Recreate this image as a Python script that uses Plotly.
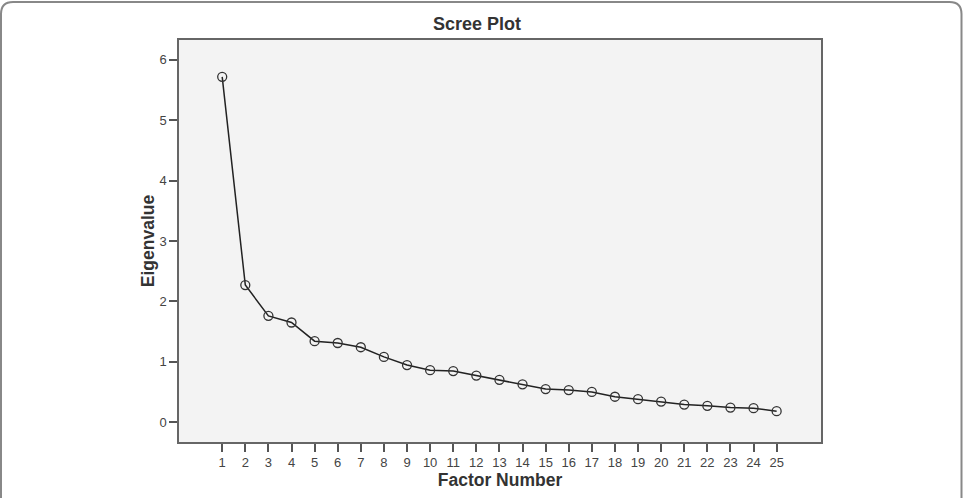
import plotly.graph_objects as go

factors = list(range(1, 26))
eigenvalues = [5.72, 2.27, 1.76, 1.65, 1.34, 1.31, 1.24, 1.08, 0.945, 0.86,
               0.845, 0.77, 0.70, 0.625, 0.547, 0.53, 0.50, 0.42, 0.38, 0.34,
               0.29, 0.27, 0.24, 0.23, 0.18]
x_ticks = list(range(1, 26))
y_ticks = [0, 1, 2, 3, 4, 5, 6]

W, H = 963, 498
L, R, T, B = 179, 142, 40, 56
pw, ph = W - L - R, H - T - B

fig = go.Figure()
fig.add_trace(go.Scatter(
    x=factors, y=eigenvalues, mode="lines+markers",
    line=dict(color="#222222", width=1.5),
    marker=dict(symbol="circle-open", size=9, color="#333333", line=dict(width=1.3)),
    hoverinfo="x+y", showlegend=False,
))

font_family = "Liberation Sans, Arial, Helvetica, sans-serif"

fig.update_layout(
    width=W, height=H,
    margin=dict(l=L, r=R, t=T, b=B, autoexpand=False),
    paper_bgcolor="white",
    plot_bgcolor="#f3f3f3",
    font=dict(family=font_family, color="#333333", size=13),
    title=dict(text="<b>Scree Plot</b>", x=477 / W, xanchor="center",
               y=1 - 24 / H, yanchor="middle",
               font=dict(size=18, color="#333333", family=font_family)),
    xaxis=dict(
        range=[-0.87, 26.92], tickvals=x_ticks, ticktext=[str(v) for v in x_ticks],
        showgrid=False, zeroline=False, ticks="outside", ticklen=8, tickwidth=1.5,
        tickcolor="#555555", showline=True, linecolor="#666666", linewidth=1.5,
        mirror=True, tickfont=dict(size=13, color="#444444"), automargin=False,
        title=dict(text="<b>Factor Number</b>", font=dict(size=17.5, color="#333333"), standoff=4),
    ),
    yaxis=dict(
        range=[-0.33, 6.33], tickvals=y_ticks, ticktext=[str(v) for v in y_ticks],
        showgrid=False, zeroline=False, ticks="outside", ticklen=8, tickwidth=1.5,
        tickcolor="#555555", showline=True, linecolor="#666666", linewidth=1.5,
        mirror=True, tickfont=dict(size=13, color="#444444"), automargin=False,
        title=dict(text="<b>Eigenvalue</b>", font=dict(size=17.5, color="#333333"), standoff=0),
    ),
)

# outer rounded frame (pixel positions converted to paper coordinates)
def px(xp):
    return (xp - L) / pw

def py(yp):
    return 1 - (yp - T) / ph

x0, x1, y0, y1, r = 1, 961.5, 2, 520, 12
path = (f"M {px(x0)},{py(y0 + r)} Q {px(x0)},{py(y0)} {px(x0 + r)},{py(y0)} "
        f"L {px(x1 - r)},{py(y0)} Q {px(x1)},{py(y0)} {px(x1)},{py(y0 + r)} "
        f"L {px(x1)},{py(y1)} M {px(x0)},{py(y0 + r)} L {px(x0)},{py(y1)}")
fig.add_shape(type="path", xref="paper", yref="paper", path=path,
              line=dict(color="#888888", width=2), layer="above")

fig.write_html("out.html")
